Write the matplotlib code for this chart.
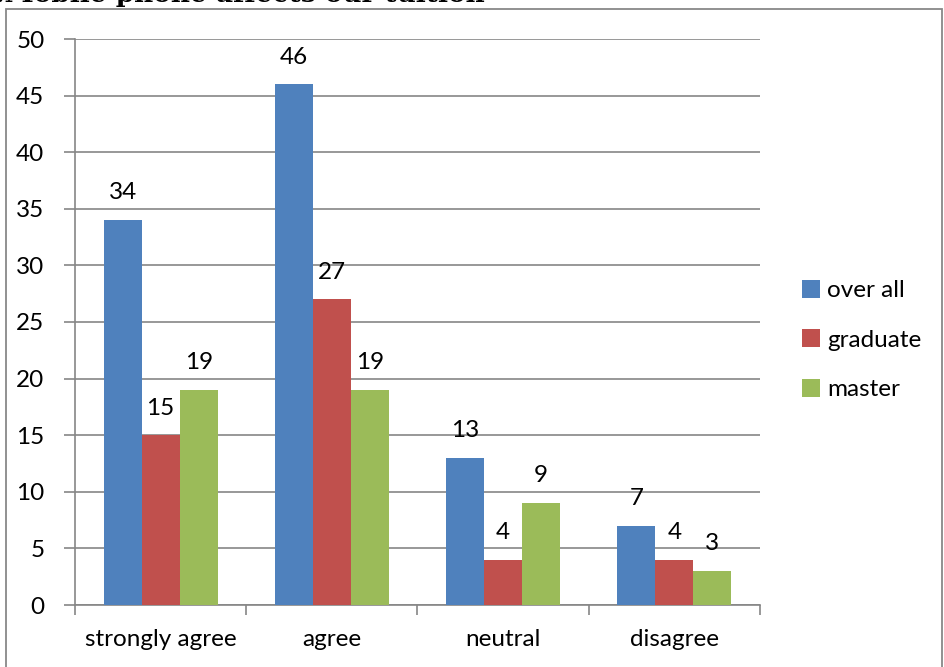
import numpy as np
import matplotlib.pyplot as plt
from matplotlib.patches import Rectangle

categories = ["strongly agree", "agree", "neutral", "disagree"]
over_all = [34, 46, 13, 7]
graduate = [15, 27, 4, 4]
master = [19, 19, 9, 3]
series_names = ["over all", "graduate", "master"]
colors = ["#4F81BD", "#C0504D", "#9BBB59"]

plt.rcParams['font.family'] = ['Lato', 'DejaVu Sans']
fs = 17.5

fig = plt.figure(figsize=(9.45, 6.67), dpi=100)
ax = fig.add_axes([75/945, 1-605/667, 685/945, 566/667])

# outer frame of the chart area
fig.add_artist(Rectangle((6/945, -0.05), 936/945, 1-9/667+0.05, transform=fig.transFigure,
                         fill=False, edgecolor="#888888", linewidth=1.3))
fig.text(485/945, 1-2/667, "1.Mobile phone affects our tuition", fontsize=19,
         fontweight="bold", family="DejaVu Serif", va="baseline", ha="right")

x = np.arange(len(categories))
w = 1/4.5
for i, (vals, name, c) in enumerate(zip([over_all, graduate, master], series_names, colors)):
    pos = x + (i-1)*w
    ax.bar(pos, vals, width=w, color=c, label=name, zorder=3)
    for p, v in zip(pos, vals):
        ax.text(p, v+2.4, str(v), ha="center", va="center", fontsize=fs, zorder=4)

ax.set_xlim(-0.5, 3.5)
ax.set_ylim(0, 50)
ax.set_yticks(range(0, 51, 5))
ax.yaxis.grid(True, color="#868686", linewidth=1.2, zorder=0)
ax.set_axisbelow(True)
ax.set_xticks(x)
ax.set_xticklabels(categories)
ax.set_xticks(np.arange(-0.5, 4, 1), minor=True)
ax.tick_params(axis="x", which="major", length=0, pad=17, labelsize=fs)
ax.tick_params(axis="x", which="minor", length=7, color="#868686", width=1.2, direction="out")
ax.tick_params(axis="y", length=8, color="#868686", width=1.2, labelsize=fs, pad=14)
for s in ["top", "right"]:
    ax.spines[s].set_visible(False)
for s in ["left", "bottom"]:
    ax.spines[s].set_color("#868686")
    ax.spines[s].set_linewidth(1.2)

ax.legend(loc="center left", bbox_to_anchor=(1.061, 0.468), frameon=False, fontsize=fs,
          handlelength=0.75, handleheight=0.75, handletextpad=0.3, labelspacing=1.15,
          borderpad=0, borderaxespad=0)

fig.savefig("out.png", dpi=100)
